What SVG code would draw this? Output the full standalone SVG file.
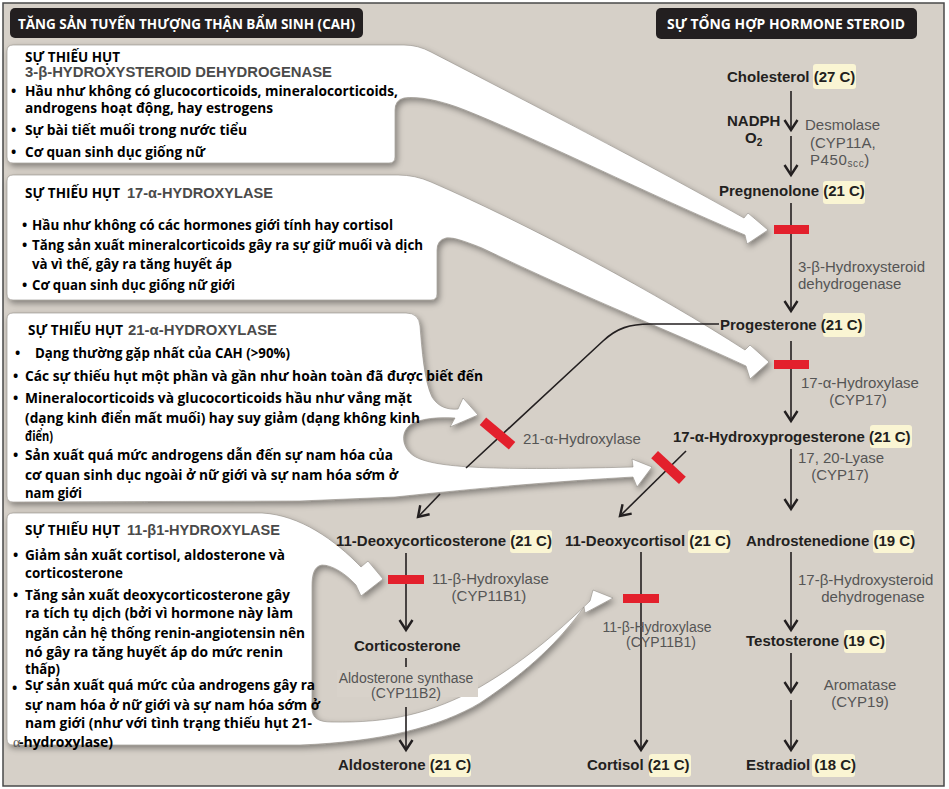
<svg xmlns="http://www.w3.org/2000/svg" width="949" height="789" viewBox="0 0 949 789">
<defs>
<style>
.bt{font-family:"Open Sans","Noto Sans",Roboto,sans-serif;font-weight:700;font-size:14px;fill:#000}
.hg{font-family:"Liberation Sans",Arial,sans-serif;font-weight:700;font-size:14px;fill:#4a4a4a}
.hd{font-family:"Open Sans","Noto Sans",sans-serif;font-weight:700;font-size:14px;fill:#fff}
.pw{font-family:"Liberation Sans",Arial,sans-serif;font-weight:700;font-size:15px;fill:#231f20}
.ez{font-family:"Liberation Sans",Arial,sans-serif;font-size:15px;fill:#555}
.ez2{font-family:"Liberation Sans",Arial,sans-serif;font-size:14px;fill:#555}
.box{fill:#fff;stroke:#8f8a83;stroke-width:0.6;filter:url(#sh)}
.ln{fill:none;stroke:#231f20;stroke-width:1.6}
.ar{marker-end:url(#ah)}
.red{fill:#e3202c}
.hl{fill:#faf5d3}
</style>
<filter id="sh" x="-10%" y="-10%" width="125%" height="130%">
<feDropShadow dx="2" dy="3" stdDeviation="3" flood-color="#000" flood-opacity="0.4"/>
</filter>
<marker id="ah" markerUnits="userSpaceOnUse" markerWidth="16" markerHeight="16" viewBox="-12 -8 14 16" refX="0" refY="0" orient="auto">
<path d="M-10,-6.5 L0,0 L-10,6.5" fill="none" stroke="#231f20" stroke-width="2.4"/>
</marker>
</defs>

<rect x="0" y="0" width="949" height="789" fill="#fff"/>
<rect x="3" y="3" width="941" height="783" fill="#d6d0c8" stroke="#4a4a4a" stroke-width="1.5"/>

<g id="header-cah">
<rect x="10" y="8" width="353" height="30" rx="5" fill="#231f20"/>
<text class="hd" x="18" y="29" textLength="337" lengthAdjust="spacingAndGlyphs">TĂNG SẢN TUYẾN THƯỢNG THẬN BẨM SINH (CAH)</text>
</g>
<g id="header-steroid">
<rect x="656" y="8" width="261" height="31" rx="5" fill="#231f20"/>
<text class="hd" x="667" y="29" textLength="238" lengthAdjust="spacingAndGlyphs">SỰ TỔNG HỢP HORMONE STEROID</text>
</g>

<g id="box-3b-hsd">
<path class="box" d="M13,45 H404 Q418,45 431,52 C520,98 650,165 744,218 L748,213 L768,230 L747,244 L745,235 C650,195 540,140 465,110 C440,100 418,96 404,98 Q395,100 395,110 V157 Q395,163 389,163 H13 Q7,163 7,157 V51 Q7,45 13,45 Z"/>
<text class="bt" x="25" y="62" textLength="95" lengthAdjust="spacingAndGlyphs">SỰ THIẾU HỤT</text>
<text class="hg" x="25" y="77" textLength="307" lengthAdjust="spacingAndGlyphs">3-β-HYDROXYSTEROID DEHYDROGENASE</text>
<text class="bt" x="11" y="96">•</text>
<text class="bt" x="25" y="96" textLength="373" lengthAdjust="spacingAndGlyphs">Hầu như không có glucocorticoids, mineralocorticoids,</text>
<text class="bt" x="25" y="113" textLength="248" lengthAdjust="spacingAndGlyphs">androgens hoạt động, hay estrogens</text>
<text class="bt" x="11" y="135">•</text>
<text class="bt" x="25" y="135" textLength="222" lengthAdjust="spacingAndGlyphs">Sự bài tiết muối trong nước tiểu</text>
<text class="bt" x="11" y="157">•</text>
<text class="bt" x="25" y="157" textLength="180" lengthAdjust="spacingAndGlyphs">Cơ quan sinh dục giống nữ</text>
</g>

<g id="box-17a">
<path class="box" d="M13,175 H398 Q415,175 431,182 C530,225 660,295 745,350 L750,345 L769,362 L750,379 L746,366 C680,335 590,300 482,248 C462,240 452,237 446,238 Q437,240 437,250 V294 Q437,300 431,300 H13 Q7,300 7,294 V181 Q7,175 13,175 Z"/>
<text class="bt" x="25" y="198"><tspan textLength="95" lengthAdjust="spacingAndGlyphs">SỰ THIẾU HỤT</tspan><tspan class="hg" x="127" textLength="146" lengthAdjust="spacingAndGlyphs">17-α-HYDROXYLASE</tspan></text>
<text class="bt" x="22" y="230">•</text>
<text class="bt" x="32" y="230" textLength="361" lengthAdjust="spacingAndGlyphs">Hầu như không có các hormones giới tính hay cortisol</text>
<text class="bt" x="22" y="250">•</text>
<text class="bt" x="32" y="250" textLength="391" lengthAdjust="spacingAndGlyphs">Tăng sản xuất mineralcorticoids gây ra sự giữ muối và dịch</text>
<text class="bt" x="32" y="269" textLength="200" lengthAdjust="spacingAndGlyphs">và vì thế, gây ra tăng huyết áp</text>
<text class="bt" x="22" y="290">•</text>
<text class="bt" x="32" y="290" textLength="203" lengthAdjust="spacingAndGlyphs">Cơ quan sinh dục giống nữ giới</text>
</g>

<g id="box-21a">
<path class="box" d="M13,313 H406 Q419,313 420,326 C422,350 424,380 432,397 C438,407 448,410 458,409 L463,398 L478,415 L450,427 L455,418 C440,417 420,418 410,425 C400,433 402,448 414,456 C432,467 480,471 633,467 L632,459 L652,467 L637,487 L633,477 C560,481 480,488 395,497 L300,501 L13,502 Q7,502 7,496 V319 Q7,313 13,313 Z"/>
<text class="bt" x="28" y="335"><tspan textLength="95" lengthAdjust="spacingAndGlyphs">SỰ THIẾU HỤT</tspan><tspan class="hg" x="128" textLength="149" lengthAdjust="spacingAndGlyphs">21-α-HYDROXYLASE</tspan></text>
<text class="bt" x="15" y="358">•</text>
<text class="bt" x="35" y="358" textLength="255" lengthAdjust="spacingAndGlyphs">Dạng thường gặp nhất của CAH (&gt;90%)</text>
<text class="bt" x="13" y="381">•</text>
<text class="bt" x="25" y="381" textLength="458" lengthAdjust="spacingAndGlyphs">Các sự thiếu hụt một phần và gần như hoàn toàn đã được biết đến</text>
<text class="bt" x="13" y="403">•</text>
<text class="bt" x="25" y="403" textLength="387" lengthAdjust="spacingAndGlyphs">Mineralocorticoids và glucocorticoids hầu như vắng mặt</text>
<text class="bt" x="25" y="423" textLength="395" lengthAdjust="spacingAndGlyphs">(dạng kinh điển mất muối) hay suy giảm (dạng không kinh</text>
<text class="bt" x="25" y="441" textLength="28" lengthAdjust="spacingAndGlyphs">điển)</text>
<text class="bt" x="13" y="460">•</text>
<text class="bt" x="25" y="460" textLength="368" lengthAdjust="spacingAndGlyphs">Sản xuất quá mức androgens dẫn đến sự nam hóa của</text>
<text class="bt" x="25" y="480" textLength="373" lengthAdjust="spacingAndGlyphs">cơ quan sinh dục ngoài ở nữ giới và sự nam hóa sớm ở</text>
<text class="bt" x="25" y="498" textLength="57" lengthAdjust="spacingAndGlyphs">nam giới</text>
</g>

<g id="box-11b">
<path class="box" d="M13,513 H262 C300,515 335,540 361,567 L368,561 L383,579 L361,596 L356,585 C345,573 332,565 322,565 C314,566 312,575 312,586 V708 C312,718 318,722 332,722 C390,723 430,714 480,687 C530,658 565,625 590,601 L593,590 L613,598 L585,613 L584,607 C560,640 530,670 480,703 C440,727 380,742 300,745 H13 Q7,745 7,739 V519 Q7,513 13,513 Z"/>
<text class="bt" x="25" y="535"><tspan textLength="95" lengthAdjust="spacingAndGlyphs">SỰ THIẾU HỤT</tspan><tspan class="hg" x="127" textLength="153" lengthAdjust="spacingAndGlyphs">11-β1-HYDROXYLASE</tspan></text>
<text class="bt" x="13" y="560">•</text>
<text class="bt" x="25" y="560" textLength="260" lengthAdjust="spacingAndGlyphs">Giảm sản xuất cortisol, aldosterone và</text>
<text class="bt" x="25" y="578" textLength="98" lengthAdjust="spacingAndGlyphs">corticosterone</text>
<text class="bt" x="13" y="600">•</text>
<text class="bt" x="25" y="600" textLength="265" lengthAdjust="spacingAndGlyphs">Tăng sản xuất deoxycorticosterone gây</text>
<text class="bt" x="25" y="618" textLength="268" lengthAdjust="spacingAndGlyphs">ra tích tụ dịch (bởi vì hormone này làm</text>
<text class="bt" x="25" y="638" textLength="280" lengthAdjust="spacingAndGlyphs">ngăn cản hệ thống renin-angiotensin nên</text>
<text class="bt" x="25" y="657" textLength="258" lengthAdjust="spacingAndGlyphs">nó gây ra tăng huyết áp do mức renin</text>
<text class="bt" x="25" y="674" textLength="35" lengthAdjust="spacingAndGlyphs">thấp)</text>
<text class="bt" x="12" y="693">•</text>
<text class="bt" x="25" y="690" textLength="290" lengthAdjust="spacingAndGlyphs">Sự sản xuất quá mức của androgens gây ra</text>
<text class="bt" x="25" y="710" textLength="295" lengthAdjust="spacingAndGlyphs">sự nam hóa ở nữ giới và sự nam hóa sớm ở</text>
<text class="bt" x="25" y="728" textLength="287" lengthAdjust="spacingAndGlyphs">nam giới (như với tình trạng thiếu hụt 21-</text>
<text class="bt" x="13" y="747"><tspan style="font-family:'Liberation Serif',serif;font-weight:400;fill:#555">α</tspan><tspan x="19" textLength="94" lengthAdjust="spacingAndGlyphs">-hydroxylase)</tspan></text>
</g>

<g id="connectors">
<line class="ln ar" x1="791" y1="91" x2="791" y2="130"/>
<line class="ln ar" x1="791" y1="136" x2="791" y2="175"/>
<line class="ln ar" x1="791" y1="203" x2="791" y2="311"/>
<line class="ln ar" x1="791" y1="341" x2="791" y2="421"/>
<line class="ln ar" x1="791" y1="449" x2="791" y2="509"/>
<path class="ln" d="M719,324 H650 C630,324 617,328 603,341 L466,468"/>
<line class="ln ar" x1="440" y1="494" x2="418" y2="517"/>
<line class="ln ar" x1="686" y1="451" x2="620" y2="516"/>
<line class="ln ar" x1="406" y1="553" x2="406" y2="630"/>
<line class="ln" x1="406" y1="658" x2="406" y2="667"/>
<line class="ln ar" x1="406" y1="707" x2="406" y2="750"/>
<line class="ln ar" x1="641" y1="552" x2="641" y2="750"/>
<line class="ln ar" x1="791" y1="552" x2="791" y2="630"/>
<line class="ln ar" x1="791" y1="653" x2="791" y2="692"/>
<line class="ln ar" x1="791" y1="700" x2="791" y2="750"/>
</g>

<g id="blocks">
<rect class="red" x="774" y="225" width="35" height="9"/>
<rect class="red" x="774" y="360" width="35" height="9"/>
<rect class="red" x="-19" y="-5" width="38" height="10" transform="translate(497.5,433.5) rotate(40)"/>
<rect class="red" x="-19" y="-5" width="38" height="10" transform="translate(668.5,467.5) rotate(43)"/>
<rect class="red" x="388" y="575" width="36" height="9"/>
<rect class="red" x="623" y="594" width="36" height="9"/>
</g>

<g id="cholesterol">
<rect class="hl" x="813" y="64" width="43" height="25" rx="3"/>
<text class="pw" x="727" y="82">Cholesterol (27 C)</text>
</g>
<g id="desmolase">
<text class="pw" x="727" y="126">NADPH</text>
<text class="pw" x="745" y="143">O<tspan font-size="10" dy="3">2</tspan></text>
<text class="ez" x="805" y="130">Desmolase</text>
<text class="ez" x="810" y="148">(CYP11A,</text>
<text class="ez" x="810" y="165" letter-spacing="0.6">P450<tspan font-size="10" dy="2">scc</tspan><tspan dy="-2">)</tspan></text>
</g>
<g id="pregnenolone">
<rect class="hl" x="823" y="181" width="42" height="23" rx="3"/>
<text class="pw" x="719" y="196">Pregnenolone (21 C)</text>
</g>
<g id="hsd3b">
<text class="ez" x="798" y="272">3-β-Hydroxysteroid</text>
<text class="ez" x="798" y="289">dehydrogenase</text>
</g>
<g id="progesterone">
<rect class="hl" x="823" y="313" width="42" height="24" rx="3"/>
<text class="pw" x="720" y="330">Progesterone (21 C)</text>
</g>
<g id="cyp17-hydroxylase">
<text class="ez" x="801" y="388">17-α-Hydroxylase</text>
<text class="ez" x="858" y="405" text-anchor="middle">(CYP17)</text>
</g>
<g id="hydroxyprogesterone">
<rect class="hl" x="870" y="425" width="42" height="23" rx="3"/>
<text class="pw" x="673" y="442">17-α-Hydroxyprogesterone (21 C)</text>
</g>
<g id="lyase">
<text class="ez" x="798" y="463">17, 20-Lyase</text>
<text class="ez" x="840" y="480" text-anchor="middle">(CYP17)</text>
</g>
<g id="hydroxylase21">
<text class="ez" x="523" y="444">21-α-Hydroxylase</text>
</g>
<g id="deoxycorticosterone">
<rect class="hl" x="510" y="530" width="42" height="23" rx="3"/>
<text class="pw" x="336" y="546">11-Deoxycorticosterone (21 C)</text>
</g>
<g id="deoxycortisol">
<rect class="hl" x="688" y="530" width="42" height="23" rx="3"/>
<text class="pw" x="565" y="546">11-Deoxycortisol (21 C)</text>
</g>
<g id="androstenedione">
<rect class="hl" x="873" y="530" width="41" height="23" rx="3"/>
<text class="pw" x="746" y="546">Androstenedione (19 C)</text>
</g>
<g id="cyp11b1-a">
<text class="ez" x="432" y="584">11-β-Hydroxylase</text>
<text class="ez" x="489" y="601" text-anchor="middle">(CYP11B1)</text>
</g>
<g id="corticosterone">
<text class="pw" x="354" y="651">Corticosterone</text>
</g>
<g id="aldosterone-synthase">
<rect x="337" y="670" width="141" height="27" fill="#d8d2ca"/>
<text class="ez2" x="406" y="683" text-anchor="middle">Aldosterone synthase</text>
<text class="ez2" x="406" y="698" text-anchor="middle">(CYP11B2)</text>
</g>
<g id="cyp11b1-b">
<text class="ez2" x="657" y="632" text-anchor="middle">11-β-Hydroxylase</text>
<text class="ez2" x="661" y="647" text-anchor="middle">(CYP11B1)</text>
</g>
<g id="hsd17b">
<text class="ez" x="798" y="585">17-β-Hydroxysteroid</text>
<text class="ez" x="873" y="602" text-anchor="middle">dehydrogenase</text>
</g>
<g id="testosterone">
<rect class="hl" x="844" y="630" width="42" height="23" rx="3"/>
<text class="pw" x="746" y="646">Testosterone (19 C)</text>
</g>
<g id="aromatase">
<text class="ez" x="860" y="690" text-anchor="middle">Aromatase</text>
<text class="ez" x="860" y="707" text-anchor="middle">(CYP19)</text>
</g>
<g id="aldosterone">
<rect class="hl" x="429" y="754" width="42" height="23" rx="3"/>
<text class="pw" x="338" y="770">Aldosterone (21 C)</text>
</g>
<g id="cortisol">
<rect class="hl" x="649" y="754" width="42" height="23" rx="3"/>
<text class="pw" x="587" y="770">Cortisol (21 C)</text>
</g>
<g id="estradiol">
<rect class="hl" x="812" y="754" width="43" height="23" rx="3"/>
<text class="pw" x="746" y="770">Estradiol (18 C)</text>
</g>
</svg>
